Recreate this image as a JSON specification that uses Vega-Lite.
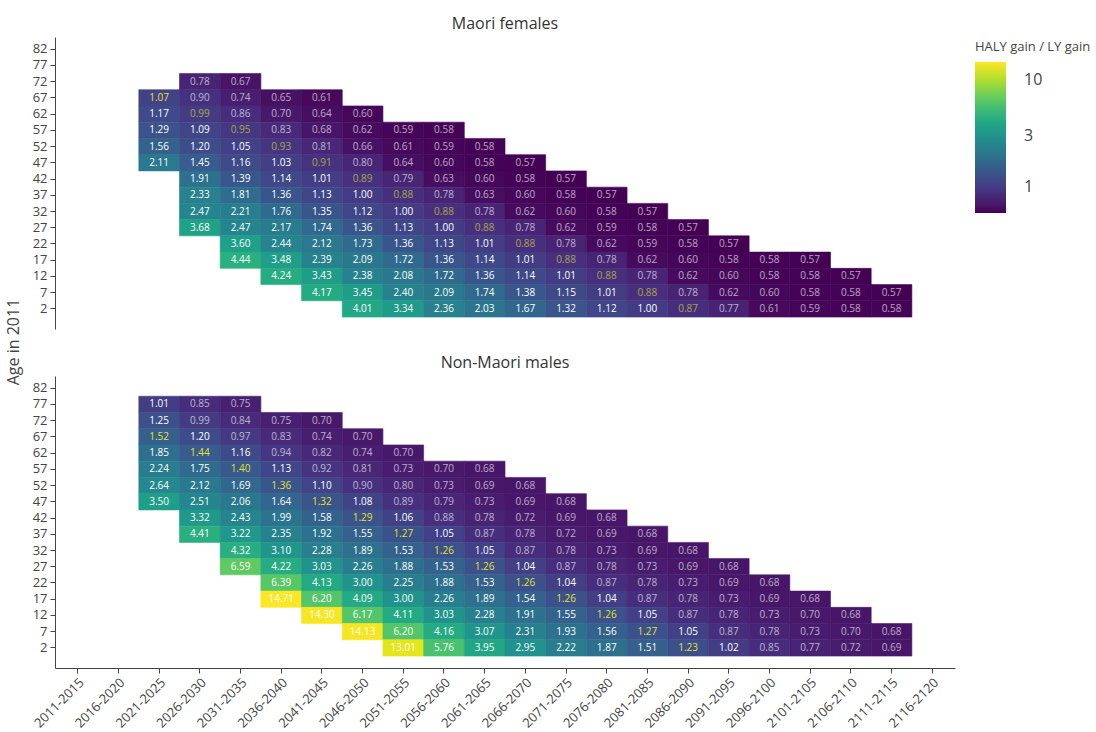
{
  "$schema": "https://vega.github.io/schema/vega-lite/v6.json",
  "padding": {"left": 5, "top": 16, "right": 0, "bottom": 0},
  "config": {"view": {"stroke": null}, "font": "Open Sans"},
  "datasets": {
    "cells": [
      {"s":"Maori females","t":"2026-2030","a":72,"v":0.78},{"s":"Maori females","t":"2031-2035","a":72,"v":0.67},
      {"s":"Maori females","t":"2021-2025","a":67,"v":1.07},{"s":"Maori females","t":"2026-2030","a":67,"v":0.90},{"s":"Maori females","t":"2031-2035","a":67,"v":0.74},{"s":"Maori females","t":"2036-2040","a":67,"v":0.65},{"s":"Maori females","t":"2041-2045","a":67,"v":0.61},
      {"s":"Maori females","t":"2021-2025","a":62,"v":1.17},{"s":"Maori females","t":"2026-2030","a":62,"v":0.99},{"s":"Maori females","t":"2031-2035","a":62,"v":0.86},{"s":"Maori females","t":"2036-2040","a":62,"v":0.70},{"s":"Maori females","t":"2041-2045","a":62,"v":0.64},{"s":"Maori females","t":"2046-2050","a":62,"v":0.60},
      {"s":"Maori females","t":"2021-2025","a":57,"v":1.29},{"s":"Maori females","t":"2026-2030","a":57,"v":1.09},{"s":"Maori females","t":"2031-2035","a":57,"v":0.95},{"s":"Maori females","t":"2036-2040","a":57,"v":0.83},{"s":"Maori females","t":"2041-2045","a":57,"v":0.68},{"s":"Maori females","t":"2046-2050","a":57,"v":0.62},{"s":"Maori females","t":"2051-2055","a":57,"v":0.59},{"s":"Maori females","t":"2056-2060","a":57,"v":0.58},
      {"s":"Maori females","t":"2021-2025","a":52,"v":1.56},{"s":"Maori females","t":"2026-2030","a":52,"v":1.20},{"s":"Maori females","t":"2031-2035","a":52,"v":1.05},{"s":"Maori females","t":"2036-2040","a":52,"v":0.93},{"s":"Maori females","t":"2041-2045","a":52,"v":0.81},{"s":"Maori females","t":"2046-2050","a":52,"v":0.66},{"s":"Maori females","t":"2051-2055","a":52,"v":0.61},{"s":"Maori females","t":"2056-2060","a":52,"v":0.59},{"s":"Maori females","t":"2061-2065","a":52,"v":0.58},
      {"s":"Maori females","t":"2021-2025","a":47,"v":2.11},{"s":"Maori females","t":"2026-2030","a":47,"v":1.45},{"s":"Maori females","t":"2031-2035","a":47,"v":1.16},{"s":"Maori females","t":"2036-2040","a":47,"v":1.03},{"s":"Maori females","t":"2041-2045","a":47,"v":0.91},{"s":"Maori females","t":"2046-2050","a":47,"v":0.80},{"s":"Maori females","t":"2051-2055","a":47,"v":0.64},{"s":"Maori females","t":"2056-2060","a":47,"v":0.60},{"s":"Maori females","t":"2061-2065","a":47,"v":0.58},{"s":"Maori females","t":"2066-2070","a":47,"v":0.57},
      {"s":"Maori females","t":"2026-2030","a":42,"v":1.91},{"s":"Maori females","t":"2031-2035","a":42,"v":1.39},{"s":"Maori females","t":"2036-2040","a":42,"v":1.14},{"s":"Maori females","t":"2041-2045","a":42,"v":1.01},{"s":"Maori females","t":"2046-2050","a":42,"v":0.89},{"s":"Maori females","t":"2051-2055","a":42,"v":0.79},{"s":"Maori females","t":"2056-2060","a":42,"v":0.63},{"s":"Maori females","t":"2061-2065","a":42,"v":0.60},{"s":"Maori females","t":"2066-2070","a":42,"v":0.58},{"s":"Maori females","t":"2071-2075","a":42,"v":0.57},
      {"s":"Maori females","t":"2026-2030","a":37,"v":2.33},{"s":"Maori females","t":"2031-2035","a":37,"v":1.81},{"s":"Maori females","t":"2036-2040","a":37,"v":1.36},{"s":"Maori females","t":"2041-2045","a":37,"v":1.13},{"s":"Maori females","t":"2046-2050","a":37,"v":1.00},{"s":"Maori females","t":"2051-2055","a":37,"v":0.88},{"s":"Maori females","t":"2056-2060","a":37,"v":0.78},{"s":"Maori females","t":"2061-2065","a":37,"v":0.63},{"s":"Maori females","t":"2066-2070","a":37,"v":0.60},{"s":"Maori females","t":"2071-2075","a":37,"v":0.58},{"s":"Maori females","t":"2076-2080","a":37,"v":0.57},
      {"s":"Maori females","t":"2026-2030","a":32,"v":2.47},{"s":"Maori females","t":"2031-2035","a":32,"v":2.21},{"s":"Maori females","t":"2036-2040","a":32,"v":1.76},{"s":"Maori females","t":"2041-2045","a":32,"v":1.35},{"s":"Maori females","t":"2046-2050","a":32,"v":1.12},{"s":"Maori females","t":"2051-2055","a":32,"v":1.00},{"s":"Maori females","t":"2056-2060","a":32,"v":0.88},{"s":"Maori females","t":"2061-2065","a":32,"v":0.78},{"s":"Maori females","t":"2066-2070","a":32,"v":0.62},{"s":"Maori females","t":"2071-2075","a":32,"v":0.60},{"s":"Maori females","t":"2076-2080","a":32,"v":0.58},{"s":"Maori females","t":"2081-2085","a":32,"v":0.57},
      {"s":"Maori females","t":"2026-2030","a":27,"v":3.68},{"s":"Maori females","t":"2031-2035","a":27,"v":2.47},{"s":"Maori females","t":"2036-2040","a":27,"v":2.17},{"s":"Maori females","t":"2041-2045","a":27,"v":1.74},{"s":"Maori females","t":"2046-2050","a":27,"v":1.36},{"s":"Maori females","t":"2051-2055","a":27,"v":1.13},{"s":"Maori females","t":"2056-2060","a":27,"v":1.00},{"s":"Maori females","t":"2061-2065","a":27,"v":0.88},{"s":"Maori females","t":"2066-2070","a":27,"v":0.78},{"s":"Maori females","t":"2071-2075","a":27,"v":0.62},{"s":"Maori females","t":"2076-2080","a":27,"v":0.59},{"s":"Maori females","t":"2081-2085","a":27,"v":0.58},{"s":"Maori females","t":"2086-2090","a":27,"v":0.57},
      {"s":"Maori females","t":"2031-2035","a":22,"v":3.60},{"s":"Maori females","t":"2036-2040","a":22,"v":2.44},{"s":"Maori females","t":"2041-2045","a":22,"v":2.12},{"s":"Maori females","t":"2046-2050","a":22,"v":1.73},{"s":"Maori females","t":"2051-2055","a":22,"v":1.36},{"s":"Maori females","t":"2056-2060","a":22,"v":1.13},{"s":"Maori females","t":"2061-2065","a":22,"v":1.01},{"s":"Maori females","t":"2066-2070","a":22,"v":0.88},{"s":"Maori females","t":"2071-2075","a":22,"v":0.78},{"s":"Maori females","t":"2076-2080","a":22,"v":0.62},{"s":"Maori females","t":"2081-2085","a":22,"v":0.59},{"s":"Maori females","t":"2086-2090","a":22,"v":0.58},{"s":"Maori females","t":"2091-2095","a":22,"v":0.57},
      {"s":"Maori females","t":"2031-2035","a":17,"v":4.44},{"s":"Maori females","t":"2036-2040","a":17,"v":3.48},{"s":"Maori females","t":"2041-2045","a":17,"v":2.39},{"s":"Maori females","t":"2046-2050","a":17,"v":2.09},{"s":"Maori females","t":"2051-2055","a":17,"v":1.72},{"s":"Maori females","t":"2056-2060","a":17,"v":1.36},{"s":"Maori females","t":"2061-2065","a":17,"v":1.14},{"s":"Maori females","t":"2066-2070","a":17,"v":1.01},{"s":"Maori females","t":"2071-2075","a":17,"v":0.88},{"s":"Maori females","t":"2076-2080","a":17,"v":0.78},{"s":"Maori females","t":"2081-2085","a":17,"v":0.62},{"s":"Maori females","t":"2086-2090","a":17,"v":0.60},{"s":"Maori females","t":"2091-2095","a":17,"v":0.58},{"s":"Maori females","t":"2096-2100","a":17,"v":0.58},{"s":"Maori females","t":"2101-2105","a":17,"v":0.57},
      {"s":"Maori females","t":"2036-2040","a":12,"v":4.24},{"s":"Maori females","t":"2041-2045","a":12,"v":3.43},{"s":"Maori females","t":"2046-2050","a":12,"v":2.38},{"s":"Maori females","t":"2051-2055","a":12,"v":2.08},{"s":"Maori females","t":"2056-2060","a":12,"v":1.72},{"s":"Maori females","t":"2061-2065","a":12,"v":1.36},{"s":"Maori females","t":"2066-2070","a":12,"v":1.14},{"s":"Maori females","t":"2071-2075","a":12,"v":1.01},{"s":"Maori females","t":"2076-2080","a":12,"v":0.88},{"s":"Maori females","t":"2081-2085","a":12,"v":0.78},{"s":"Maori females","t":"2086-2090","a":12,"v":0.62},{"s":"Maori females","t":"2091-2095","a":12,"v":0.60},{"s":"Maori females","t":"2096-2100","a":12,"v":0.58},{"s":"Maori females","t":"2101-2105","a":12,"v":0.58},{"s":"Maori females","t":"2106-2110","a":12,"v":0.57},
      {"s":"Maori females","t":"2041-2045","a":7,"v":4.17},{"s":"Maori females","t":"2046-2050","a":7,"v":3.45},{"s":"Maori females","t":"2051-2055","a":7,"v":2.40},{"s":"Maori females","t":"2056-2060","a":7,"v":2.09},{"s":"Maori females","t":"2061-2065","a":7,"v":1.74},{"s":"Maori females","t":"2066-2070","a":7,"v":1.38},{"s":"Maori females","t":"2071-2075","a":7,"v":1.15},{"s":"Maori females","t":"2076-2080","a":7,"v":1.01},{"s":"Maori females","t":"2081-2085","a":7,"v":0.88},{"s":"Maori females","t":"2086-2090","a":7,"v":0.78},{"s":"Maori females","t":"2091-2095","a":7,"v":0.62},{"s":"Maori females","t":"2096-2100","a":7,"v":0.60},{"s":"Maori females","t":"2101-2105","a":7,"v":0.58},{"s":"Maori females","t":"2106-2110","a":7,"v":0.58},{"s":"Maori females","t":"2111-2115","a":7,"v":0.57},
      {"s":"Maori females","t":"2046-2050","a":2,"v":4.01},{"s":"Maori females","t":"2051-2055","a":2,"v":3.34},{"s":"Maori females","t":"2056-2060","a":2,"v":2.36},{"s":"Maori females","t":"2061-2065","a":2,"v":2.03},{"s":"Maori females","t":"2066-2070","a":2,"v":1.67},{"s":"Maori females","t":"2071-2075","a":2,"v":1.32},{"s":"Maori females","t":"2076-2080","a":2,"v":1.12},{"s":"Maori females","t":"2081-2085","a":2,"v":1.00},{"s":"Maori females","t":"2086-2090","a":2,"v":0.87},{"s":"Maori females","t":"2091-2095","a":2,"v":0.77},{"s":"Maori females","t":"2096-2100","a":2,"v":0.61},{"s":"Maori females","t":"2101-2105","a":2,"v":0.59},{"s":"Maori females","t":"2106-2110","a":2,"v":0.58},{"s":"Maori females","t":"2111-2115","a":2,"v":0.58},

      {"s":"Non-Maori males","t":"2021-2025","a":77,"v":1.01},{"s":"Non-Maori males","t":"2026-2030","a":77,"v":0.85},{"s":"Non-Maori males","t":"2031-2035","a":77,"v":0.75},
      {"s":"Non-Maori males","t":"2021-2025","a":72,"v":1.25},{"s":"Non-Maori males","t":"2026-2030","a":72,"v":0.99},{"s":"Non-Maori males","t":"2031-2035","a":72,"v":0.84},{"s":"Non-Maori males","t":"2036-2040","a":72,"v":0.75},{"s":"Non-Maori males","t":"2041-2045","a":72,"v":0.70},
      {"s":"Non-Maori males","t":"2021-2025","a":67,"v":1.52},{"s":"Non-Maori males","t":"2026-2030","a":67,"v":1.20},{"s":"Non-Maori males","t":"2031-2035","a":67,"v":0.97},{"s":"Non-Maori males","t":"2036-2040","a":67,"v":0.83},{"s":"Non-Maori males","t":"2041-2045","a":67,"v":0.74},{"s":"Non-Maori males","t":"2046-2050","a":67,"v":0.70},
      {"s":"Non-Maori males","t":"2021-2025","a":62,"v":1.85},{"s":"Non-Maori males","t":"2026-2030","a":62,"v":1.44},{"s":"Non-Maori males","t":"2031-2035","a":62,"v":1.16},{"s":"Non-Maori males","t":"2036-2040","a":62,"v":0.94},{"s":"Non-Maori males","t":"2041-2045","a":62,"v":0.82},{"s":"Non-Maori males","t":"2046-2050","a":62,"v":0.74},{"s":"Non-Maori males","t":"2051-2055","a":62,"v":0.70},
      {"s":"Non-Maori males","t":"2021-2025","a":57,"v":2.24},{"s":"Non-Maori males","t":"2026-2030","a":57,"v":1.75},{"s":"Non-Maori males","t":"2031-2035","a":57,"v":1.40},{"s":"Non-Maori males","t":"2036-2040","a":57,"v":1.13},{"s":"Non-Maori males","t":"2041-2045","a":57,"v":0.92},{"s":"Non-Maori males","t":"2046-2050","a":57,"v":0.81},{"s":"Non-Maori males","t":"2051-2055","a":57,"v":0.73},{"s":"Non-Maori males","t":"2056-2060","a":57,"v":0.70},{"s":"Non-Maori males","t":"2061-2065","a":57,"v":0.68},
      {"s":"Non-Maori males","t":"2021-2025","a":52,"v":2.64},{"s":"Non-Maori males","t":"2026-2030","a":52,"v":2.12},{"s":"Non-Maori males","t":"2031-2035","a":52,"v":1.69},{"s":"Non-Maori males","t":"2036-2040","a":52,"v":1.36},{"s":"Non-Maori males","t":"2041-2045","a":52,"v":1.10},{"s":"Non-Maori males","t":"2046-2050","a":52,"v":0.90},{"s":"Non-Maori males","t":"2051-2055","a":52,"v":0.80},{"s":"Non-Maori males","t":"2056-2060","a":52,"v":0.73},{"s":"Non-Maori males","t":"2061-2065","a":52,"v":0.69},{"s":"Non-Maori males","t":"2066-2070","a":52,"v":0.68},
      {"s":"Non-Maori males","t":"2021-2025","a":47,"v":3.50},{"s":"Non-Maori males","t":"2026-2030","a":47,"v":2.51},{"s":"Non-Maori males","t":"2031-2035","a":47,"v":2.06},{"s":"Non-Maori males","t":"2036-2040","a":47,"v":1.64},{"s":"Non-Maori males","t":"2041-2045","a":47,"v":1.32},{"s":"Non-Maori males","t":"2046-2050","a":47,"v":1.08},{"s":"Non-Maori males","t":"2051-2055","a":47,"v":0.89},{"s":"Non-Maori males","t":"2056-2060","a":47,"v":0.79},{"s":"Non-Maori males","t":"2061-2065","a":47,"v":0.73},{"s":"Non-Maori males","t":"2066-2070","a":47,"v":0.69},{"s":"Non-Maori males","t":"2071-2075","a":47,"v":0.68},
      {"s":"Non-Maori males","t":"2026-2030","a":42,"v":3.32},{"s":"Non-Maori males","t":"2031-2035","a":42,"v":2.43},{"s":"Non-Maori males","t":"2036-2040","a":42,"v":1.99},{"s":"Non-Maori males","t":"2041-2045","a":42,"v":1.58},{"s":"Non-Maori males","t":"2046-2050","a":42,"v":1.29},{"s":"Non-Maori males","t":"2051-2055","a":42,"v":1.06},{"s":"Non-Maori males","t":"2056-2060","a":42,"v":0.88},{"s":"Non-Maori males","t":"2061-2065","a":42,"v":0.78},{"s":"Non-Maori males","t":"2066-2070","a":42,"v":0.72},{"s":"Non-Maori males","t":"2071-2075","a":42,"v":0.69},{"s":"Non-Maori males","t":"2076-2080","a":42,"v":0.68},
      {"s":"Non-Maori males","t":"2026-2030","a":37,"v":4.41},{"s":"Non-Maori males","t":"2031-2035","a":37,"v":3.22},{"s":"Non-Maori males","t":"2036-2040","a":37,"v":2.35},{"s":"Non-Maori males","t":"2041-2045","a":37,"v":1.92},{"s":"Non-Maori males","t":"2046-2050","a":37,"v":1.55},{"s":"Non-Maori males","t":"2051-2055","a":37,"v":1.27},{"s":"Non-Maori males","t":"2056-2060","a":37,"v":1.05},{"s":"Non-Maori males","t":"2061-2065","a":37,"v":0.87},{"s":"Non-Maori males","t":"2066-2070","a":37,"v":0.78},{"s":"Non-Maori males","t":"2071-2075","a":37,"v":0.72},{"s":"Non-Maori males","t":"2076-2080","a":37,"v":0.69},{"s":"Non-Maori males","t":"2081-2085","a":37,"v":0.68},
      {"s":"Non-Maori males","t":"2031-2035","a":32,"v":4.32},{"s":"Non-Maori males","t":"2036-2040","a":32,"v":3.10},{"s":"Non-Maori males","t":"2041-2045","a":32,"v":2.28},{"s":"Non-Maori males","t":"2046-2050","a":32,"v":1.89},{"s":"Non-Maori males","t":"2051-2055","a":32,"v":1.53},{"s":"Non-Maori males","t":"2056-2060","a":32,"v":1.26},{"s":"Non-Maori males","t":"2061-2065","a":32,"v":1.05},{"s":"Non-Maori males","t":"2066-2070","a":32,"v":0.87},{"s":"Non-Maori males","t":"2071-2075","a":32,"v":0.78},{"s":"Non-Maori males","t":"2076-2080","a":32,"v":0.73},{"s":"Non-Maori males","t":"2081-2085","a":32,"v":0.69},{"s":"Non-Maori males","t":"2086-2090","a":32,"v":0.68},
      {"s":"Non-Maori males","t":"2031-2035","a":27,"v":6.59},{"s":"Non-Maori males","t":"2036-2040","a":27,"v":4.22},{"s":"Non-Maori males","t":"2041-2045","a":27,"v":3.03},{"s":"Non-Maori males","t":"2046-2050","a":27,"v":2.26},{"s":"Non-Maori males","t":"2051-2055","a":27,"v":1.88},{"s":"Non-Maori males","t":"2056-2060","a":27,"v":1.53},{"s":"Non-Maori males","t":"2061-2065","a":27,"v":1.26},{"s":"Non-Maori males","t":"2066-2070","a":27,"v":1.04},{"s":"Non-Maori males","t":"2071-2075","a":27,"v":0.87},{"s":"Non-Maori males","t":"2076-2080","a":27,"v":0.78},{"s":"Non-Maori males","t":"2081-2085","a":27,"v":0.73},{"s":"Non-Maori males","t":"2086-2090","a":27,"v":0.69},{"s":"Non-Maori males","t":"2091-2095","a":27,"v":0.68},
      {"s":"Non-Maori males","t":"2036-2040","a":22,"v":6.39},{"s":"Non-Maori males","t":"2041-2045","a":22,"v":4.13},{"s":"Non-Maori males","t":"2046-2050","a":22,"v":3.00},{"s":"Non-Maori males","t":"2051-2055","a":22,"v":2.25},{"s":"Non-Maori males","t":"2056-2060","a":22,"v":1.88},{"s":"Non-Maori males","t":"2061-2065","a":22,"v":1.53},{"s":"Non-Maori males","t":"2066-2070","a":22,"v":1.26},{"s":"Non-Maori males","t":"2071-2075","a":22,"v":1.04},{"s":"Non-Maori males","t":"2076-2080","a":22,"v":0.87},{"s":"Non-Maori males","t":"2081-2085","a":22,"v":0.78},{"s":"Non-Maori males","t":"2086-2090","a":22,"v":0.73},{"s":"Non-Maori males","t":"2091-2095","a":22,"v":0.69},{"s":"Non-Maori males","t":"2096-2100","a":22,"v":0.68},
      {"s":"Non-Maori males","t":"2036-2040","a":17,"v":14.71},{"s":"Non-Maori males","t":"2041-2045","a":17,"v":6.20},{"s":"Non-Maori males","t":"2046-2050","a":17,"v":4.09},{"s":"Non-Maori males","t":"2051-2055","a":17,"v":3.00},{"s":"Non-Maori males","t":"2056-2060","a":17,"v":2.26},{"s":"Non-Maori males","t":"2061-2065","a":17,"v":1.89},{"s":"Non-Maori males","t":"2066-2070","a":17,"v":1.54},{"s":"Non-Maori males","t":"2071-2075","a":17,"v":1.26},{"s":"Non-Maori males","t":"2076-2080","a":17,"v":1.04},{"s":"Non-Maori males","t":"2081-2085","a":17,"v":0.87},{"s":"Non-Maori males","t":"2086-2090","a":17,"v":0.78},{"s":"Non-Maori males","t":"2091-2095","a":17,"v":0.73},{"s":"Non-Maori males","t":"2096-2100","a":17,"v":0.69},{"s":"Non-Maori males","t":"2101-2105","a":17,"v":0.68},
      {"s":"Non-Maori males","t":"2041-2045","a":12,"v":14.30},{"s":"Non-Maori males","t":"2046-2050","a":12,"v":6.17},{"s":"Non-Maori males","t":"2051-2055","a":12,"v":4.11},{"s":"Non-Maori males","t":"2056-2060","a":12,"v":3.03},{"s":"Non-Maori males","t":"2061-2065","a":12,"v":2.28},{"s":"Non-Maori males","t":"2066-2070","a":12,"v":1.91},{"s":"Non-Maori males","t":"2071-2075","a":12,"v":1.55},{"s":"Non-Maori males","t":"2076-2080","a":12,"v":1.26},{"s":"Non-Maori males","t":"2081-2085","a":12,"v":1.05},{"s":"Non-Maori males","t":"2086-2090","a":12,"v":0.87},{"s":"Non-Maori males","t":"2091-2095","a":12,"v":0.78},{"s":"Non-Maori males","t":"2096-2100","a":12,"v":0.73},{"s":"Non-Maori males","t":"2101-2105","a":12,"v":0.70},{"s":"Non-Maori males","t":"2106-2110","a":12,"v":0.68},
      {"s":"Non-Maori males","t":"2046-2050","a":7,"v":14.13},{"s":"Non-Maori males","t":"2051-2055","a":7,"v":6.20},{"s":"Non-Maori males","t":"2056-2060","a":7,"v":4.16},{"s":"Non-Maori males","t":"2061-2065","a":7,"v":3.07},{"s":"Non-Maori males","t":"2066-2070","a":7,"v":2.31},{"s":"Non-Maori males","t":"2071-2075","a":7,"v":1.93},{"s":"Non-Maori males","t":"2076-2080","a":7,"v":1.56},{"s":"Non-Maori males","t":"2081-2085","a":7,"v":1.27},{"s":"Non-Maori males","t":"2086-2090","a":7,"v":1.05},{"s":"Non-Maori males","t":"2091-2095","a":7,"v":0.87},{"s":"Non-Maori males","t":"2096-2100","a":7,"v":0.78},{"s":"Non-Maori males","t":"2101-2105","a":7,"v":0.73},{"s":"Non-Maori males","t":"2106-2110","a":7,"v":0.70},{"s":"Non-Maori males","t":"2111-2115","a":7,"v":0.68},
      {"s":"Non-Maori males","t":"2051-2055","a":2,"v":13.01},{"s":"Non-Maori males","t":"2056-2060","a":2,"v":5.76},{"s":"Non-Maori males","t":"2061-2065","a":2,"v":3.95},{"s":"Non-Maori males","t":"2066-2070","a":2,"v":2.95},{"s":"Non-Maori males","t":"2071-2075","a":2,"v":2.22},{"s":"Non-Maori males","t":"2076-2080","a":2,"v":1.87},{"s":"Non-Maori males","t":"2081-2085","a":2,"v":1.51},{"s":"Non-Maori males","t":"2086-2090","a":2,"v":1.23},{"s":"Non-Maori males","t":"2091-2095","a":2,"v":1.02},{"s":"Non-Maori males","t":"2096-2100","a":2,"v":0.85},{"s":"Non-Maori males","t":"2101-2105","a":2,"v":0.77},{"s":"Non-Maori males","t":"2106-2110","a":2,"v":0.72},{"s":"Non-Maori males","t":"2111-2115","a":2,"v":0.69}
    ]
  },
  "data": {"name": "cells"},
  "transform": [
    {"calculate": "toNumber(substring(datum.t, 0, 4)) - 2011 + datum.a == 77", "as": "hl"}
  ],
  "facet": {
    "row": {
      "field": "s", "type": "nominal",
      "sort": ["Maori females", "Non-Maori males"],
      "title": "Age in 2011",
      "header": {
        "labelOrient": "top", "labelAngle": 0, "labelAnchor": "middle",
        "labelFontSize": 16, "labelFont": "Open Sans", "labelColor": "#333",
        "labelPadding": -11,
        "titleOrient": "left", "titleFontSize": 16, "titleFontWeight": "normal",
        "titleFont": "Open Sans", "titleColor": "#444", "titlePadding": 0
      }
    }
  },
  "spacing": 26,
  "spec": {
    "width": 900,
    "height": 292,
    "encoding": {
      "x": {
        "field": "t", "type": "ordinal",
        "scale": {"domain": ["2011-2015","2016-2020","2021-2025","2026-2030","2031-2035","2036-2040","2041-2045","2046-2050","2051-2055","2056-2060","2061-2065","2066-2070","2071-2075","2076-2080","2081-2085","2086-2090","2091-2095","2096-2100","2101-2105","2106-2110","2111-2115","2116-2120"], "paddingInner": 0, "paddingOuter": 0.06},
        "axis": {"title": null, "labelAngle": -45, "labelFontSize": 13, "labelColor": "#444", "tickColor": "#444", "domainColor": "#444", "tickSize": 5, "labelPadding": 3, "grid": false}
      },
      "y": {
        "field": "a", "type": "ordinal",
        "scale": {"domain": [82,77,72,67,62,57,52,47,42,37,32,27,22,17,12,7,2], "paddingInner": 0, "paddingOuter": 0.49, "align": 0.25},
        "axis": {"title": null, "labelFontSize": 13, "labelColor": "#444", "tickColor": "#444", "domainColor": "#444", "tickSize": 5, "labelPadding": 3, "grid": false}
      }
    },
    "layer": [
      {
        "mark": {"type": "rect", "strokeWidth": 0.6, "stroke": {"expr": "scale('color', datum.v)"}},
        "encoding": {
          "color": {
            "field": "v", "type": "quantitative",
            "scale": {"type": "log", "scheme": "viridis"},
            "legend": {
              "title": "HALY gain / LY gain", "values": [1, 3, 10],
              "orient": "none", "legendX": 920, "legendY": 4,
              "gradientLength": 151, "gradientThickness": 31,
              "labelFontSize": 16, "labelColor": "#444", "labelOffset": 18,
              "titleFontSize": 13, "titleFontWeight": "normal", "titleColor": "#444",
              "titlePadding": 8, "titleLimit": 200
            }
          }
        }
      },
      {
        "mark": {"type": "text", "fontSize": 10, "font": "Open Sans"},
        "encoding": {
          "text": {"field": "v", "type": "quantitative", "format": ".2f"},
          "color": {"condition": {"test": "datum.hl", "value": "#e4e32a"}, "value": "#ffffff"},
          "opacity": {"condition": {"test": "datum.v < 1", "value": 0.62}, "value": 1}
        }
      }
    ]
  }
}
